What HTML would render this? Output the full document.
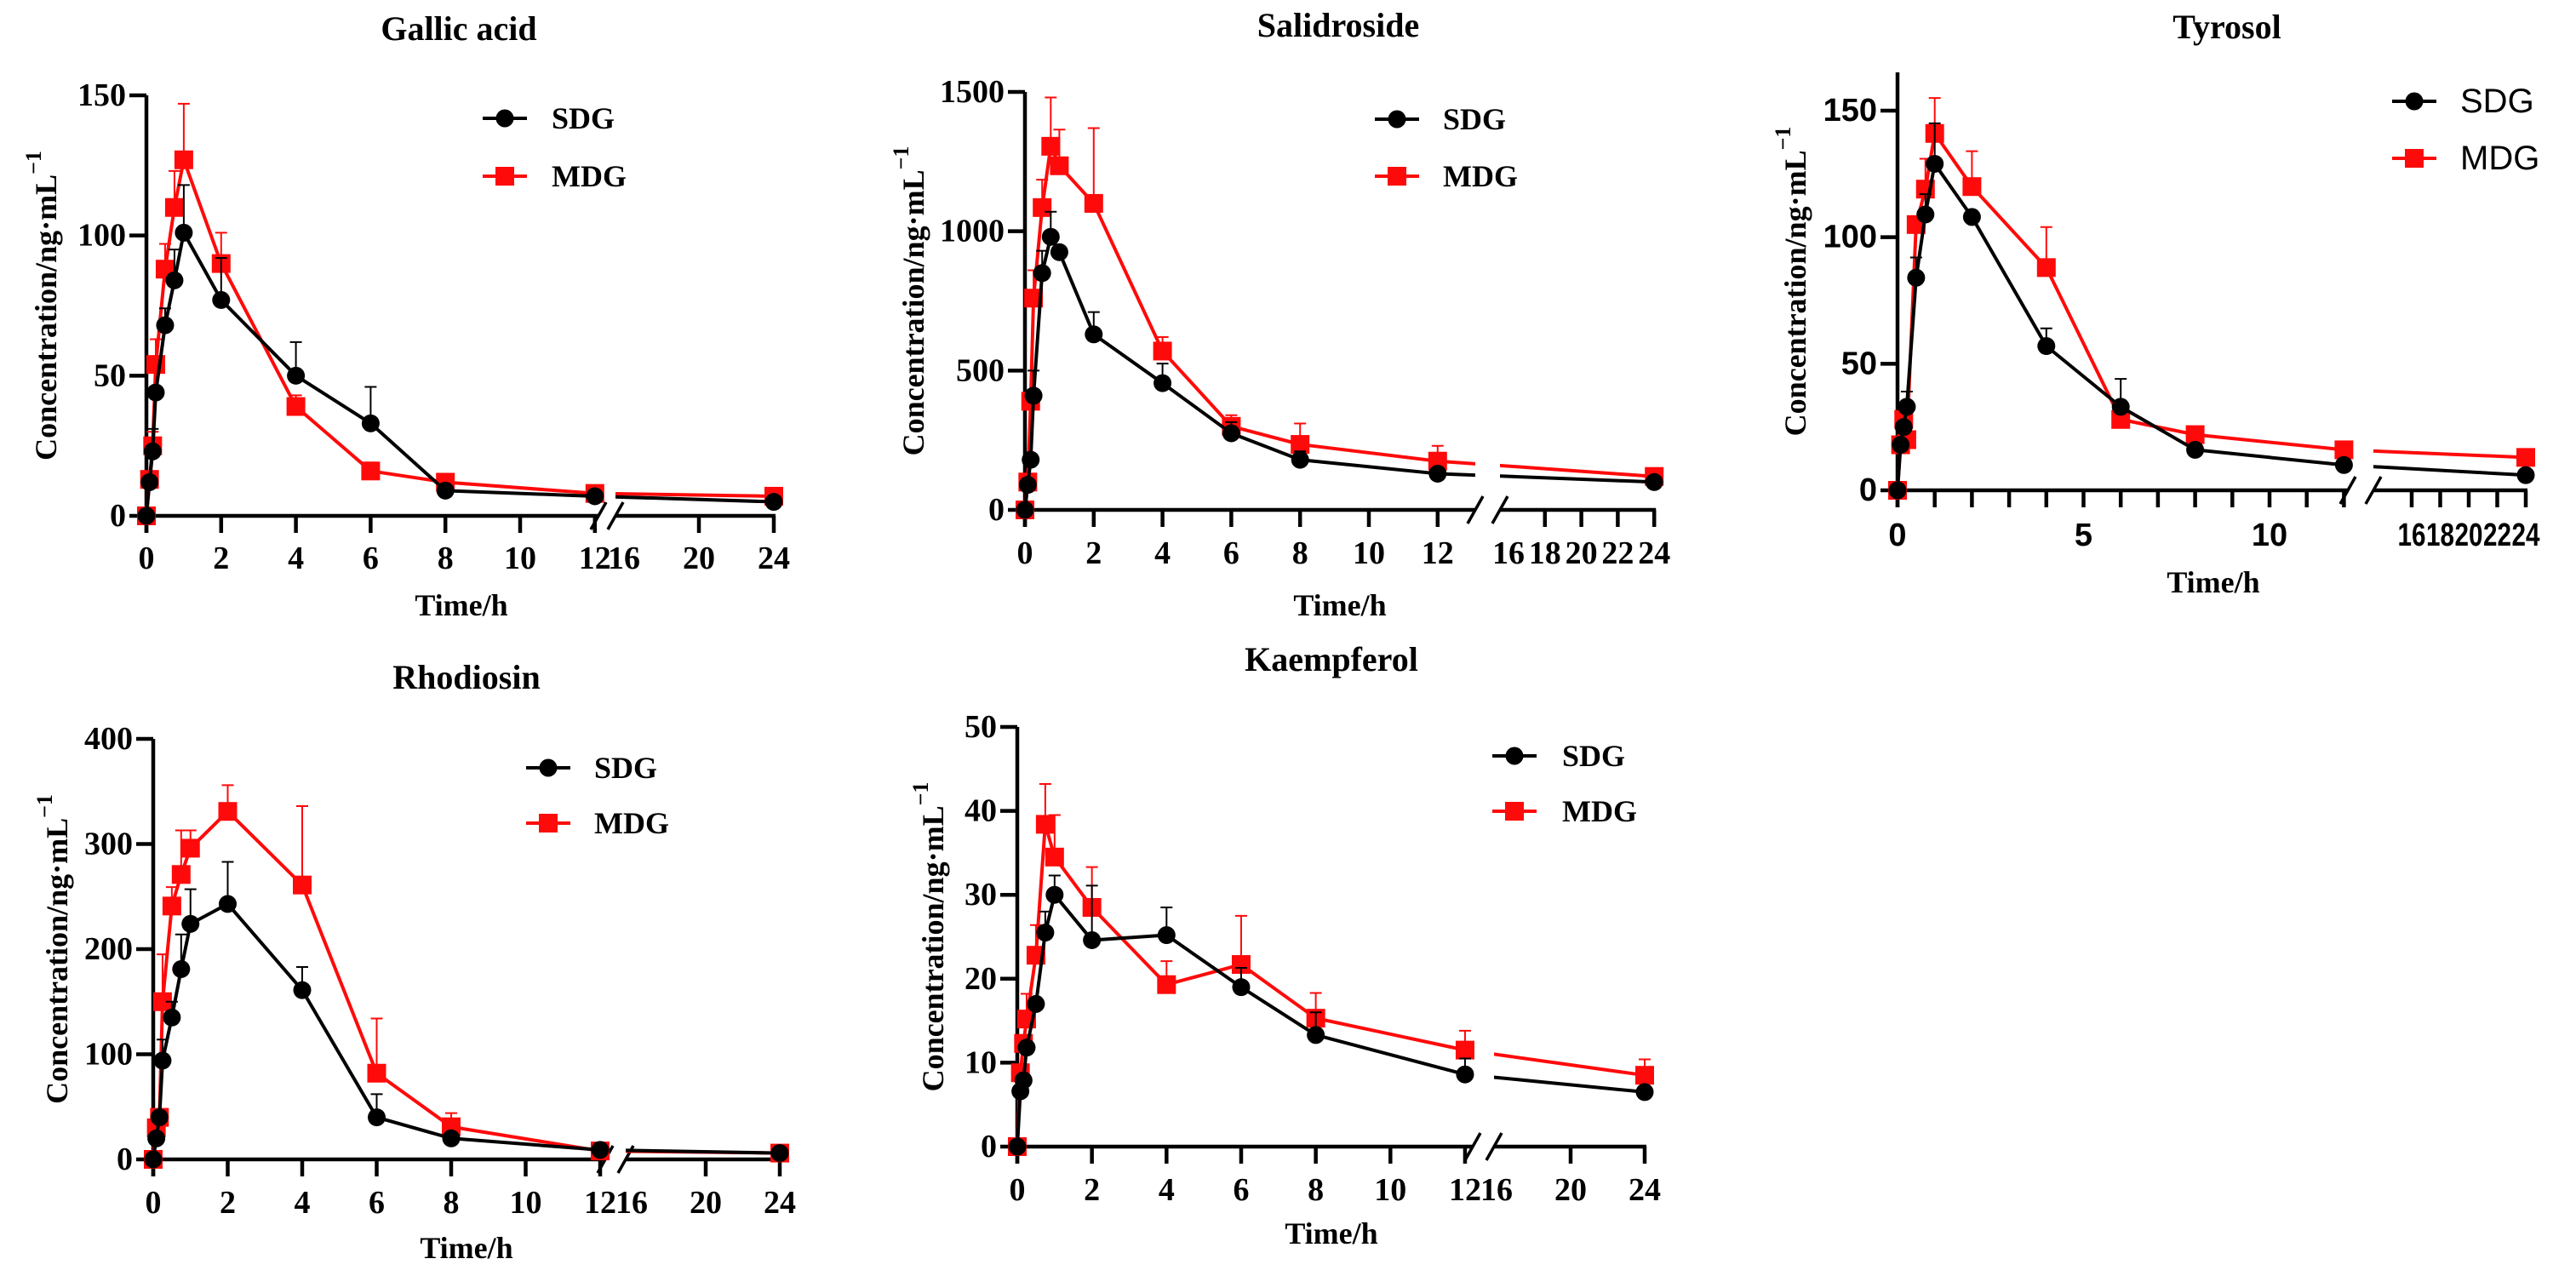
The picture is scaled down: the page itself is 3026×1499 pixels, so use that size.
<!DOCTYPE html>
<html><head><meta charset="utf-8"><style>
html,body{margin:0;padding:0;background:#fff;}
svg{display:block;}
</style></head>
<body>
<svg id="fig" width="3026" height="1499" viewBox="0 0 3026 1499" xmlns="http://www.w3.org/2000/svg"></svg>
<script>
const timePoints = [0, 0.083, 0.167, 0.25, 0.5, 0.75, 1, 2, 4, 6, 8, 12, 24];
const seriesNames = ["SDG", "MDG"];

const gallicSDG = [0, 12, 23, 44, 68, 84, 101, 77, 50, 33, 9, 7, 5];
const gallicMDG = [0, 13, 25, 54, 88, 110, 127, 90, 39, 16, 12, 8, 7];
const gallicSDGErr = [0, 0, 8, 0, 6, 11, 17, 15, 12, 13, 0, 0, 0];
const gallicMDGErr = [0, 0, 5, 9, 9, 13, 20, 11, 4, 3, 0, 0, 0];
const gallicYTicks = [0, 50, 100, 150];

const salidSDG = [0, 90, 180, 410, 850, 980, 925, 630, 455, 275, 180, 130, 100];
const salidMDG = [0, 100, 390, 760, 1085, 1305, 1235, 1100, 570, 300, 235, 175, 120];
const salidSDGErr = [0, 0, 0, 90, 80, 90, 0, 80, 70, 40, 30, 0, 0];
const salidMDGErr = [0, 0, 0, 100, 100, 175, 130, 270, 50, 40, 75, 55, 0];
const salidYTicks = [0, 500, 1000, 1500];

const tyrosolSDG = [0, 18, 25, 33, 84, 109, 129, 108, 57, 33, 16, 10, 6];
const tyrosolMDG = [0, 18, 28, 20, 105, 119, 141, 120, 88, 28, 22, 16, 13];
const tyrosolSDGErr = [0, 0, 0, 6, 8, 8, 16, 0, 7, 11, 0, 0, 0];
const tyrosolMDGErr = [0, 0, 0, 0, 0, 12, 14, 14, 16, 0, 2, 0, 3];
const tyrosolYTicks = [0, 50, 100, 150];

const rhodSDG = [0, 20, 40, 94, 135, 181, 224, 243, 161, 40, 20, 9, 6];
const rhodMDG = [0, 30, 40, 150, 241, 271, 296, 331, 261, 82, 31, 8, 6];
const rhodSDGErr = [0, 0, 0, 20, 15, 33, 33, 40, 22, 22, 0, 0, 0];
const rhodMDGErr = [0, 0, 0, 45, 18, 42, 17, 25, 75, 52, 13, 0, 0];
const rhodYTicks = [0, 100, 200, 300, 400];

const kaempSDG = [0, 6.6, 7.9, 11.8, 17, 25.5, 30, 24.6, 25.2, 19, 13.3, 8.6, 6.5];
const kaempMDG = [0, 8.8, 12.3, 15.2, 22.8, 38.4, 34.5, 28.5, 19.3, 21.7, 15.3, 11.5, 8.5];
const kaempSDGErr = [0, 0, 0, 0, 0, 2.5, 2.3, 6.5, 3.3, 2.3, 2.7, 1.9, 0];
const kaempMDGErr = [0, 0, 0, 3, 3.6, 4.8, 5, 4.8, 2.8, 5.8, 3, 2.3, 1.9];
const kaempYTicks = [0, 10, 20, 30, 40, 50];

const NS = "http://www.w3.org/2000/svg";
const svg = document.getElementById("fig");
const SERIF = '"Liberation Serif", serif';
const SANS = '"Liberation Sans", sans-serif';
const RED = "#ff0a0a";

function mk(tag, attrs, parent) {
  const e = document.createElementNS(NS, tag);
  for (const k in attrs) e.setAttribute(k, attrs[k]);
  (parent || svg).appendChild(e);
  return e;
}

let clipId = 0;
function panel(cfg, sdg, mdg, sdgErr, mdgErr, yTicks) {
  const g = mk("g", {});
  
  
  const xs = t => t <= 12 ? cfg.x0 + t * cfg.k1 : cfg.x16 + (t - 16) * cfg.k2;
  const ys = v => cfg.y0 - v * (cfg.y0 - cfg.yTopPx) / cfg.yMax;

  // title
  const title = mk("text", {x: cfg.tx, y: cfg.ty, "text-anchor": "middle", "dominant-baseline": "middle", "font-family": SERIF, "font-weight": "bold", "font-size": 40}, g);
  title.textContent = cfg.title;
  
  

  // axes
  const axes = mk("g", {stroke: "#000", "stroke-width": 4.5, fill: "none"}, g);
  
  
  mk("line", {x1: cfg.x0, y1: cfg.axisTop, x2: cfg.x0, y2: cfg.y0 + 20}, axes);
  mk("line", {x1: cfg.x0 - 2, y1: cfg.y0, x2: cfg.g1, y2: cfg.y0}, axes);
  mk("line", {x1: cfg.g2, y1: cfg.y0, x2: xs(24) + 2, y2: cfg.y0}, axes);
  for (const gx of [cfg.g1, cfg.g2]) {
    mk("line", {x1: gx - 9, y1: cfg.y0 + 16, x2: gx + 9, y2: cfg.y0 - 16, "stroke-width": 3.5}, axes);
  }
  // y ticks
  const yfont = cfg.sansTicks ? SANS : SERIF;
  for (const v of yTicks) {
    mk("line", {x1: cfg.x0 - 20, y1: ys(v), x2: cfg.x0, y2: ys(v)}, axes);
    const t = mk("text", {x: cfg.x0 - 24, y: ys(v), "text-anchor": "end", "dominant-baseline": "central", "font-family": yfont, "font-weight": "bold", "font-size": 38, fill: "#000", stroke: "none"}, g);
    t.textContent = v;
    
    
  }
  // x ticks
  for (const v of cfg.xTicks1) mk("line", {x1: xs(v), y1: cfg.y0, x2: xs(v), y2: cfg.y0 + 20}, axes);
  for (const v of cfg.xTicks2) mk("line", {x1: xs(v), y1: cfg.y0, x2: xs(v), y2: cfg.y0 + 20}, axes);
  for (const v of cfg.xLabels) {
    const attrs = {x: xs(v), y: cfg.lblY, "text-anchor": "middle", "dominant-baseline": "central", "font-family": yfont, "font-weight": "bold", "font-size": 38};
    if (cfg.squeeze && v >= 16) { attrs["textLength"] = 33; attrs["lengthAdjust"] = "spacingAndGlyphs"; }
    const t = mk("text", attrs, g);
    t.textContent = v;
    
    
  }
  // axis titles
  const xt = mk("text", {x: cfg.timeX, y: cfg.timeY, "text-anchor": "middle", "dominant-baseline": "central", "font-family": SERIF, "font-weight": "bold", "font-size": 36}, g);
  xt.textContent = "Time/h";
  
  
  const yc = (cfg.y0 + cfg.axisTop) / 2;
  const yt = mk("text", {x: cfg.ylx, y: yc, transform: `rotate(-90 ${cfg.ylx} ${yc})`, "text-anchor": "middle", "dominant-baseline": "central", "font-family": SERIF, "font-weight": "bold", "font-size": 36}, g);
  yt.textContent = "Concentration/ng·mL";
  const sup = mk("tspan", {"baseline-shift": "super", "font-size": 26}, yt);
  sup.textContent = "−1";
  
  

  // clip for lines
  clipId++;
  const cp = mk("clipPath", {id: "cp" + clipId}, g);
  mk("rect", {x: 0, y: 0, width: cfg.g1, height: 1499}, cp);
  mk("rect", {x: cfg.g2, y: 0, width: 3026 - cfg.g2, height: 1499}, cp);

  const series = [
    {name: "MDG", vals: mdg, err: mdgErr, color: RED, marker: "square"},
    {name: "SDG", vals: sdg, err: sdgErr, color: "#000", marker: "circle"}
  ];
  for (const s of series) {
    const sg = mk("g", {}, g);
    
    
    // error bars
    s.vals.forEach((v, i) => {
      if (!s.err[i]) return;
      const x = xs(timePoints[i]);
      const eb = mk("path", {d: `M${x},${ys(v)}V${ys(v + s.err[i])}M${x - 7},${ys(v + s.err[i])}H${x + 7}`, stroke: s.color, "stroke-width": 2, fill: "none"}, sg);
      
      
    });
    const d = s.vals.map((v, i) => (i ? "L" : "M") + xs(timePoints[i]) + "," + ys(v)).join("");
    const line = mk("path", {d: d, stroke: s.color, "stroke-width": 4, fill: "none", "clip-path": `url(#cp${clipId})`, "stroke-linejoin": "round"}, sg);
    
    
    s.vals.forEach((v, i) => {
      const x = xs(timePoints[i]), y = ys(v);
      let m;
      if (s.marker === "circle") m = mk("circle", {cx: x, cy: y, r: 10.5, fill: s.color}, sg);
      else m = mk("rect", {x: x - 11, y: y - 11, width: 22, height: 22, fill: s.color}, sg);
      
      
    });
  }
  // legend
  const lg = mk("g", {}, g);
  
  
  const entries = [{n: "SDG", y: cfg.leg1, c: "#000", m: "circle"}, {n: "MDG", y: cfg.leg2, c: RED, m: "square"}];
  for (const e of entries) {
    const eg = mk("g", {}, lg);
    
    
    mk("line", {x1: cfg.legX - 26, y1: e.y, x2: cfg.legX + 26, y2: e.y, stroke: e.c, "stroke-width": 4}, eg);
    if (e.m === "circle") mk("circle", {cx: cfg.legX, cy: e.y, r: 10.5, fill: e.c}, eg);
    else mk("rect", {x: cfg.legX - 11, y: e.y - 11, width: 22, height: 22, fill: e.c}, eg);
    const t = mk("text", cfg.sansLegend
      ? {x: cfg.legTx, y: e.y, "dominant-baseline": "central", "font-family": SANS, "font-size": 40}
      : {x: cfg.legTx, y: e.y, "dominant-baseline": "central", "font-family": SERIF, "font-weight": "bold", "font-size": 36}, eg);
    t.textContent = e.n;
  }
}

const stdTicks1 = [0, 2, 4, 6, 8, 10, 12];
panel({name: "gallic-acid", title: "Gallic acid", x0: 172, k1: 43.9, x16: 733, k2: 22, y0: 606, yTopPx: 112, yMax: 150, axisTop: 112,
  g1: 703, g2: 723, xTicks1: stdTicks1, xTicks2: [20, 24], xLabels: [0, 2, 4, 6, 8, 10, 12, 16, 20, 24],
  tx: 539, ty: 38, legX: 593, leg1: 139, leg2: 207, legTx: 648, ylx: 54, timeX: 542, timeY: 711, lblY: 656},
  gallicSDG, gallicMDG, gallicSDGErr, gallicMDGErr, gallicYTicks);

panel({name: "salidroside", title: "Salidroside", x0: 1204, k1: 40.4, x16: 1772, k2: 21.4, y0: 599, yTopPx: 108, yMax: 1500, axisTop: 108,
  g1: 1733, g2: 1762, xTicks1: stdTicks1, xTicks2: [18, 20, 22, 24], xLabels: [0, 2, 4, 6, 8, 10, 12, 16, 18, 20, 22, 24],
  tx: 1572, ty: 34, legX: 1641, leg1: 140, leg2: 207, legTx: 1695, ylx: 1073, timeX: 1574, timeY: 711, lblY: 650},
  salidSDG, salidMDG, salidSDGErr, salidMDGErr, salidYTicks);

panel({name: "tyrosol", title: "Tyrosol", x0: 2229, k1: 43.7, x16: 2833, k2: 16.75, y0: 576, yTopPx: 130, yMax: 150, axisTop: 85,
  g1: 2758, g2: 2788, xTicks1: [0,1,2,3,4,5,6,7,8,9,10,11,12], xTicks2: [16, 18, 20, 22, 24], xLabels: [0, 5, 10, 16, 18, 20, 22, 24],
  sansTicks: true, squeeze: true, sansLegend: true,
  tx: 2616, ty: 36, legX: 2836, leg1: 119, leg2: 186, legTx: 2890, ylx: 2109, timeX: 2600, timeY: 684, lblY: 629},
  tyrosolSDG, tyrosolMDG, tyrosolSDGErr, tyrosolMDGErr, tyrosolYTicks);

panel({name: "rhodiosin", title: "Rhodiosin", x0: 180, k1: 43.75, x16: 742, k2: 21.75, y0: 1362, yTopPx: 868, yMax: 400, axisTop: 868,
  g1: 711, g2: 735, xTicks1: stdTicks1, xTicks2: [20, 24], xLabels: [0, 2, 4, 6, 8, 10, 12, 16, 20, 24],
  tx: 548, ty: 800, legX: 644, leg1: 902, leg2: 967, legTx: 698, ylx: 67, timeX: 548, timeY: 1466, lblY: 1413},
  rhodSDG, rhodMDG, rhodSDGErr, rhodMDGErr, rhodYTicks);

panel({name: "kaempferol", title: "Kaempferol", x0: 1195, k1: 43.83, x16: 1758, k2: 21.75, y0: 1347, yTopPx: 854, yMax: 50, axisTop: 854,
  g1: 1730, g2: 1755, xTicks1: stdTicks1, xTicks2: [20, 24], xLabels: [0, 2, 4, 6, 8, 10, 12, 16, 20, 24],
  tx: 1564, ty: 779, legX: 1779, leg1: 888, leg2: 953, legTx: 1835, ylx: 1096, timeX: 1564, timeY: 1449, lblY: 1398},
  kaempSDG, kaempMDG, kaempSDGErr, kaempMDGErr, kaempYTicks);
</script>
</body></html>
